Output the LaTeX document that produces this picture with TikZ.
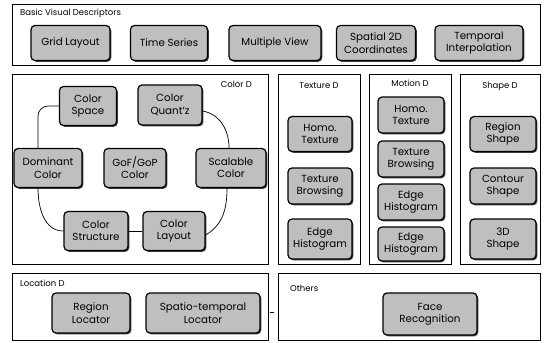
\documentclass[tikz,border=0pt]{standalone}
\usepackage{fontspec}
\setmainfont{Poppins}
\usetikzlibrary{shadows}
\begin{document}
\begin{tikzpicture}[x=1pt,y=-1pt,
  panel/.style={draw=black,line width=0.8pt},
  ptitle/.style={font=\fontsize{8.5}{10}\selectfont,inner sep=0pt},
  dbox/.style={draw=black,line width=1.2pt,fill=gray!50,rounded corners=4pt,
    align=center,inner sep=1pt,font=\fontsize{10.3}{12.3}\selectfont,
    drop shadow={shadow xshift=1.3pt,shadow yshift=-1.3pt,fill=black!75,opacity=1}},
  link/.style={draw=black,line width=0.7pt}]
\useasboundingbox (0,0) rectangle (547,343);
% panels
\draw[panel] (12,4) rectangle (540,65);
\draw[panel] (12,74) rectangle (268,264);
\draw[panel] (278,74) rectangle (360,264);
\draw[panel] (369,74) rectangle (451,264);
\draw[panel] (460,74) rectangle (540,264);
\draw[panel] (12,273) rectangle (268,340);
\draw[panel] (278,273) rectangle (540,340);
% panel titles
\node[ptitle,anchor=west] (t1) at (20,13) {Basic Visual Descriptors};
\node[ptitle,anchor=east] (t2) at (252,84) {Color D};
\node[ptitle] (t3) at (319,86) {Texture D};
\node[ptitle] (t4) at (410,83) {Motion D};
\node[ptitle] (t5) at (500,86) {Shape D};
\node[ptitle,anchor=west] (t6) at (20,283) {Location D};
\node[ptitle,anchor=west] (t7) at (290,288) {Others};
% top row
\node[dbox,minimum width=79pt,minimum height=35pt] (gl) at (70.5,43) {Grid Layout};
\node[dbox,minimum width=77pt,minimum height=35pt] (ts) at (169,43) {Time Series};
\node[dbox,minimum width=92pt,minimum height=35pt] (mv) at (275,43) {Multiple View};
\node[dbox,minimum width=79pt,minimum height=35pt] (sp) at (376,43) {Spatial 2D\\Coordinates};
\node[dbox,minimum width=88pt,minimum height=35pt] (ti) at (479,43) {Temporal\\Interpolation};
% color
\node[dbox,minimum width=57pt,minimum height=39pt] (cs) at (88,106) {Color\\Space};
\node[dbox,minimum width=64pt,minimum height=40pt] (cq) at (170,105) {Color\\Quant'z};
\node[dbox,minimum width=68pt,minimum height=39pt] (dom) at (48,168) {Dominant\\Color};
\node[dbox,minimum width=62pt,minimum height=39pt] (gof) at (135,168) {GoF/GoP\\Color};
\node[dbox,minimum width=70pt,minimum height=39pt] (sc) at (231,168) {Scalable\\Color};
\node[dbox,minimum width=64pt,minimum height=39pt] (st) at (96,231) {Color\\Structure};
\node[dbox,minimum width=62pt,minimum height=39pt] (la) at (174,231) {Color\\Layout};
\draw[link,rounded corners=10pt] (cs.west) -| ([xshift=-10pt]dom.north);
\draw[link] ([yshift=-6pt]cq.east) to[out=-10,in=90] ([xshift=-2pt]sc.north);
\draw[link] ([xshift=-10pt]dom.south) to[out=-90,in=180] (st.west);
\draw[link] (st.east) -- (la.west);
\draw[link] ([xshift=-4pt]sc.south) to[out=-90,in=30] ([yshift=-4pt]la.east);
% texture
\node[dbox,minimum width=64pt,minimum height=35pt] (th) at (320,134) {Homo.\\Texture};
\node[dbox,minimum width=64pt,minimum height=36pt] (tb) at (320,186) {Texture\\Browsing};
\node[dbox,minimum width=64pt,minimum height=40pt] (te) at (320,239) {Edge\\Histogram};
% motion
\node[dbox,minimum width=66pt,minimum height=36pt] (mh) at (411,115) {Homo.\\Texture};
\node[dbox,minimum width=66pt,minimum height=36pt] (mb) at (411,159) {Texture\\Browsing};
\node[dbox,minimum width=66pt,minimum height=36pt] (me) at (411,202) {Edge\\Histogram};
\node[dbox,minimum width=66pt,minimum height=34pt] (me2) at (411,244) {Edge\\Histogram};
% shape
\node[dbox,minimum width=66pt,minimum height=35pt] (sr) at (503,134) {Region\\Shape};
\node[dbox,minimum width=66pt,minimum height=36pt] (sco) at (503,186) {Contour\\Shape};
\node[dbox,minimum width=66pt,minimum height=40pt] (s3) at (503,239) {3D\\Shape};
% location / others
\node[dbox,minimum width=78pt,minimum height=40pt] (rl) at (91,313) {Region\\Locator};
\node[dbox,minimum width=114pt,minimum height=40pt] (stl) at (203,313) {Spatio-temporal\\Locator};
\node[dbox,minimum width=94pt,minimum height=42pt] (fr) at (430,314) {Face\\Recognition};
\coordinate (d1) at (270,312);
\coordinate (d2) at (274,312);
\draw[link,line width=1pt] (d1) -- (d2);
\end{tikzpicture}
\end{document}
